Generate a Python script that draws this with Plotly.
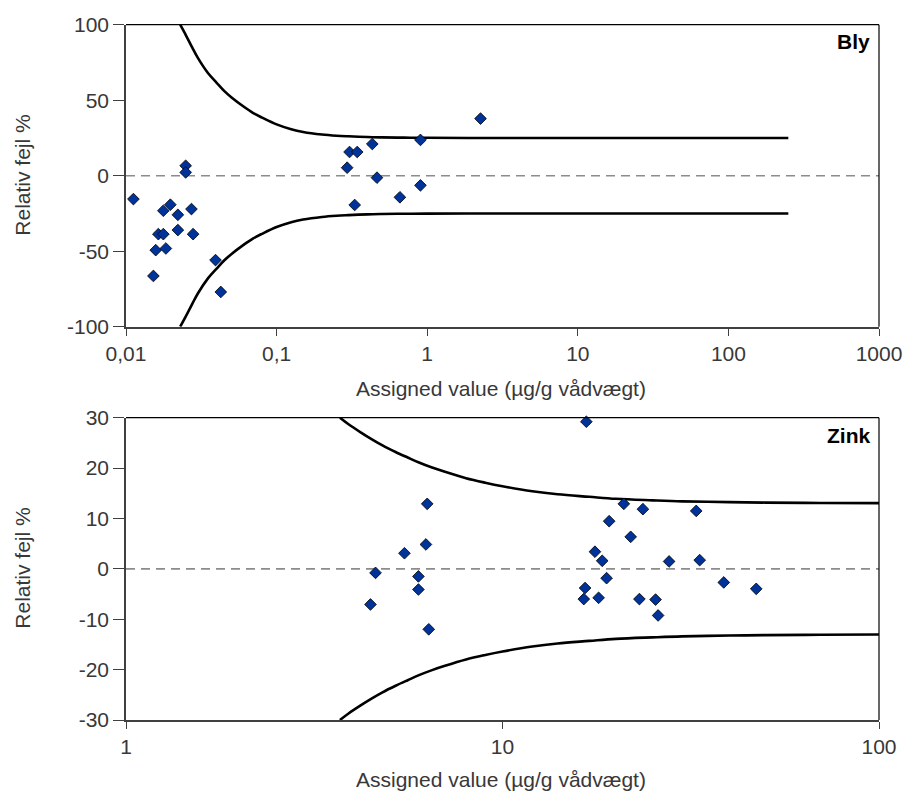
import plotly.graph_objects as go

# ---------------- data ----------------
bly_x = [0.0112, 0.0249, 0.0249, 0.0197, 0.0177, 0.0221, 0.0272, 0.0164, 0.0177,
         0.0221, 0.0279, 0.01575, 0.0184, 0.0152, 0.0393, 0.0426, 0.294, 0.305,
         0.343, 0.330, 0.432, 0.464, 0.659, 0.902, 0.902, 2.26]
bly_y = [-15.5, 6.6, 2.2, -19.2, -23.2, -25.9, -22.1, -38.7, -38.7, -36.0, -38.7,
         -49.3, -48.2, -66.4, -55.9, -77.0, 5.3, 15.7, 15.7, -19.4, 21.0, -1.3,
         -14.3, 23.7, -6.4, 37.8]

bly_lim_x = [0.0229, 0.025, 0.0275, 0.03, 0.035, 0.04, 0.045, 0.05, 0.06, 0.07, 0.08,
             0.1, 0.125, 0.15, 0.2, 0.25, 0.3, 0.4, 0.5, 0.7, 1, 2, 5, 250]
bly_lim_upper = [100, 93, 85, 78, 68, 61.5, 56, 52, 46, 41.5, 38.5, 34, 30.8, 29,
                 27.3, 26.5, 26.1, 25.6, 25.4, 25.2, 25.1, 25, 25, 25]
bly_lim_lower = [-100, -93, -85, -78, -68, -61.5, -56, -52, -46, -41.5, -38.5, -34,
                 -30.8, -29, -27.3, -26.5, -26.1, -25.6, -25.4, -25.2, -25.1, -25,
                 -25, -25]

zink_x = [4.46, 4.60, 5.49, 5.98, 5.98, 6.26, 6.31, 6.37, 16.7, 16.44, 16.57, 18.0,
          17.6, 18.4, 18.9, 19.2, 21.0, 23.6, 21.9, 23.1, 25.5, 25.9, 27.7, 32.7,
          33.4, 38.7, 47.2]
zink_y = [-7.07, -0.8, 3.1, -1.5, -4.1, 4.84, 12.9, -12.0, 29.2, -6.0, -3.8, -5.75,
          3.4, 1.6, -1.85, 9.46, 12.9, 11.85, 6.35, -6.0, -6.1, -9.25, 1.47, 11.5,
          1.73, -2.7, -3.97]

zink_lim_x = [3.70, 3.9, 4.2, 4.5, 4.8, 5.2, 5.6, 6, 6.5, 7, 8, 9, 10, 12, 14, 17,
              20, 25, 30, 40, 50, 70, 100]
zink_lim_upper = [30, 28.7, 27.1, 25.7, 24.5, 23.2, 22.1, 21.1, 20.1, 19.3, 18.0,
                  17.1, 16.4, 15.4, 14.8, 14.3, 13.9, 13.6, 13.4, 13.24, 13.15,
                  13.08, 13.04]
zink_lim_lower = [-30, -28.7, -27.1, -25.7, -24.5, -23.2, -22.1, -21.1, -20.1, -19.3,
                  -18.0, -17.1, -16.4, -15.4, -14.8, -14.3, -13.9, -13.6, -13.4,
                  -13.24, -13.15, -13.08, -13.04]

bly_xtickvals = [0.01, 0.1, 1, 10, 100, 1000]
bly_xticktext = ["0,01", "0,1", "1", "10", "100", "1000"]
bly_ytickvals = [-100, -50, 0, 50, 100]
bly_yticktext = ["-100", "-50", "0", "50", "100"]
zink_xtickvals = [1, 10, 100]
zink_xticktext = ["1", "10", "100"]
zink_ytickvals = [-30, -20, -10, 0, 10, 20, 30]
zink_yticktext = ["-30", "-20", "-10", "0", "10", "20", "30"]

y_title = "Relativ fejl %"
x_title = "Assigned value (µg/g vådvægt)"

# ---------------- style ----------------
FONT = "Liberation Sans, Arial, sans-serif"
FS = 21
TXT = "#383838"
MARK = "#003399"
W, H = 903, 796

def px_x(p):
    return p / W

def px_y(p):
    return (H - p) / H

xdom = [px_x(126), px_x(879)]
top_dom = [px_y(326.7), px_y(24.7)]
bot_dom = [px_y(720), px_y(417.7)]

fig = go.Figure()

marker = dict(symbol="diamond", size=9, color=MARK, line=dict(color="#000000", width=0.8))
lim_line = dict(color="#000000", width=2.6, shape="spline", smoothing=1.0)

# top (Bly)
fig.add_trace(go.Scatter(x=bly_lim_x, y=bly_lim_upper, mode="lines", line=lim_line,
                         xaxis="x", yaxis="y", showlegend=False, hoverinfo="skip"))
fig.add_trace(go.Scatter(x=bly_lim_x, y=bly_lim_lower, mode="lines", line=lim_line,
                         xaxis="x", yaxis="y", showlegend=False, hoverinfo="skip"))
fig.add_trace(go.Scatter(x=bly_x, y=bly_y, mode="markers", marker=marker,
                         xaxis="x", yaxis="y", showlegend=False, cliponaxis=False))

# bottom (Zink)
fig.add_trace(go.Scatter(x=zink_lim_x, y=zink_lim_upper, mode="lines", line=lim_line,
                         xaxis="x2", yaxis="y2", showlegend=False, hoverinfo="skip"))
fig.add_trace(go.Scatter(x=zink_lim_x, y=zink_lim_lower, mode="lines", line=lim_line,
                         xaxis="x2", yaxis="y2", showlegend=False, hoverinfo="skip"))
fig.add_trace(go.Scatter(x=zink_x, y=zink_y, mode="markers", marker=marker,
                         xaxis="x2", yaxis="y2", showlegend=False, cliponaxis=False))

axis_common = dict(showgrid=False, zeroline=False, showline=True, linecolor="#404040",
                   linewidth=1.6, ticks="outside", tickcolor="#404040", tickwidth=1.3,
                   tickfont=dict(family=FONT, size=FS, color=TXT), automargin=False)

fig.update_layout(
    width=W, height=H,
    margin=dict(l=0, r=0, t=0, b=0),
    paper_bgcolor="white", plot_bgcolor="white",
    xaxis=dict(type="log", range=[-2, 3], domain=xdom, anchor="y",
               tickvals=bly_xtickvals, ticktext=bly_xticktext, ticklen=7, **axis_common),
    yaxis=dict(range=[-100, 100], domain=top_dom, anchor="x",
               tickvals=bly_ytickvals, ticktext=bly_yticktext, ticklen=11, **axis_common),
    xaxis2=dict(type="log", range=[0, 2], domain=xdom, anchor="y2",
                tickvals=zink_xtickvals, ticktext=zink_xticktext, ticklen=7, **axis_common),
    yaxis2=dict(range=[-30, 30], domain=bot_dom, anchor="x2",
                tickvals=zink_ytickvals, ticktext=zink_yticktext, ticklen=11, **axis_common),
)

# zero dashed lines and frame
for xr, yr in (("x", "y"), ("x2", "y2")):
    fig.add_shape(type="line", xref=f"{xr} domain", yref=yr, x0=0, x1=1, y0=0, y1=0,
                  line=dict(color="#8c8c8c", width=1.6, dash="9px,6px"), layer="below")
    fig.add_shape(type="line", xref=f"{xr} domain", yref=f"{yr} domain", x0=0, x1=1, y0=1, y1=1,
                  line=dict(color="#000000", width=1.2))
    fig.add_shape(type="line", xref=f"{xr} domain", yref=f"{yr} domain", x0=1, x1=1, y0=0, y1=1,
                  line=dict(color="#000000", width=1.2))

ann_font = dict(family=FONT, size=FS, color=TXT)
anns = [
    dict(text=y_title, x=px_x(23), y=px_y(175.7), textangle=-90),
    dict(text=y_title, x=px_x(23), y=px_y(568.7), textangle=-90),
    dict(text=x_title, x=px_x(501), y=px_y(388)),
    dict(text=x_title, x=px_x(501), y=px_y(779)),
]
for a in anns:
    fig.add_annotation(xref="paper", yref="paper", showarrow=False, font=ann_font,
                       xanchor="center", yanchor="middle", **a)

for label, yc in (("Bly", 42), ("Zink", 435)):
    fig.add_annotation(xref="paper", yref="paper", showarrow=False, text=f"<b>{label}</b>",
                       x=px_x(872), y=px_y(yc), xanchor="right", yanchor="middle",
                       font=dict(family=FONT, size=FS, color="#000000"))

fig.write_html("out.html", config={"displayModeBar": False},
               post_script="document.body.style.margin='0';document.body.style.overflow='hidden';")
